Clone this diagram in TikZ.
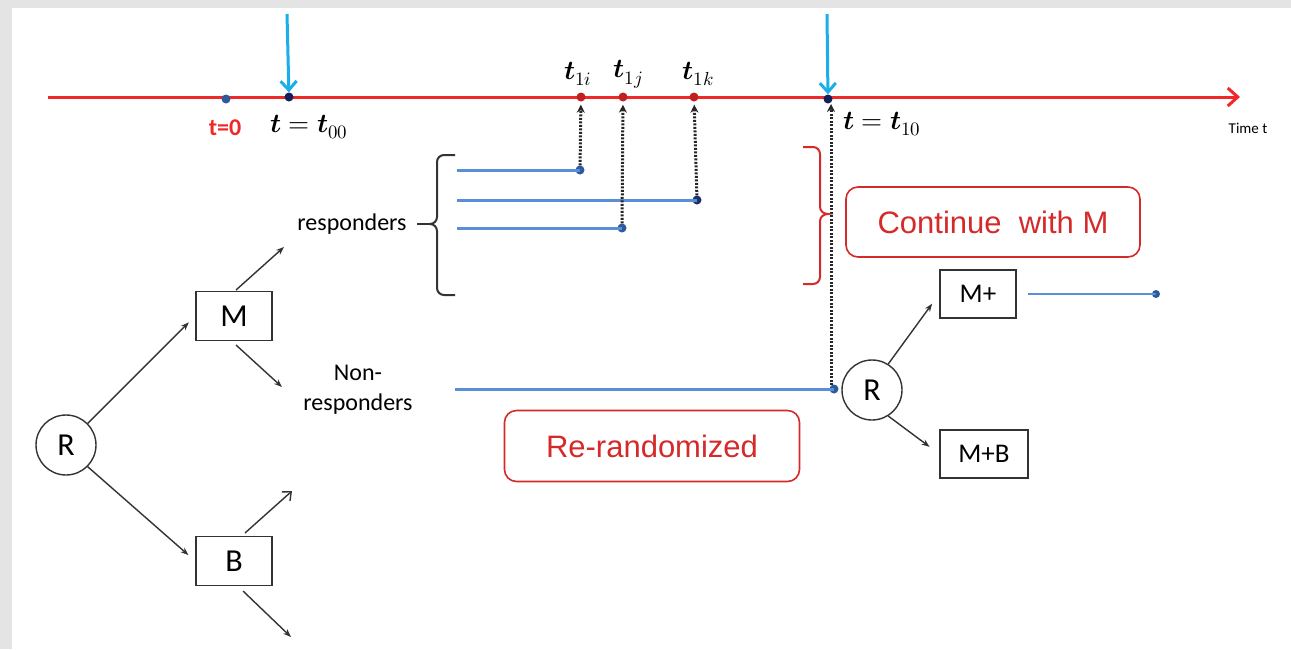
\documentclass[tikz,border=0pt]{standalone}
\usepackage{fontspec}
\setmainfont{Carlito}
\newfontfamily\arialf{Liberation Sans}
\usepackage{unicode-math}
\usetikzlibrary{arrows.meta}
\definecolor{axisred}{HTML}{F02828}
\definecolor{skyb}{HTML}{1BAEEA}
\definecolor{lineblue}{HTML}{5A8ED6}
\definecolor{dotblue}{HTML}{2E5A9C}
\definecolor{navy}{HTML}{14205A}
\definecolor{boxred}{HTML}{D42A2A}
\definecolor{bgray}{HTML}{E4E4E4}
\definecolor{ink}{HTML}{333333}
\tikzset{
  dotnode/.style={circle,fill=#1,inner sep=0pt,minimum size=9pt},
  tbox/.style={draw=ink,line width=1.6pt,minimum width=76pt,minimum height=49pt,font=\fontsize{32}{34}\selectfont,inner sep=0pt},
  sbox/.style={draw=ink,line width=1.6pt,minimum height=48pt,font=\fontsize{27}{29}\selectfont,inner sep=0pt},
  rnode/.style={circle,draw=ink,line width=1.4pt,minimum size=60pt,inner sep=0pt,font=\fontsize{32}{34}\selectfont},
  redbox/.style={draw=boxred,line width=1.6pt,rounded corners=12pt,text=boxred,font=\arialf\fontsize{31}{33}\selectfont,inner sep=0pt},
  lbl/.style={font=\fontsize{24}{30}\selectfont},
  mlbl/.style={font=\fontsize{27}{29}\selectfont},
  garrow/.style={draw=ink,line width=1.4pt,-{Stealth[length=8pt,width=6pt]}},
  dotarrow/.style={draw=black!85,line width=3pt,dash pattern=on 2pt off 1.5pt,-{Stealth[length=8pt,width=8pt]}},
  bline/.style={draw=lineblue,line width=3pt},
  cyanarrow/.style={draw=skyb,line width=3pt,-{Straight Barb[length=9pt,width=16pt,line width=3pt]}},
}
\begin{document}
\begin{tikzpicture}[x=1pt,y=-1pt]
\useasboundingbox (0,0) rectangle (1291,649);
\fill[bgray] (0,0) rectangle (1291,649);
\fill[white] (12,8) rectangle (1291,649);

% time axis
\coordinate (axs) at (48,97);
\coordinate (axe) at (1240,97);
\draw[axisred,line width=3pt,-{Straight Barb[length=10pt,width=18pt,line width=3pt]}] (axs) -- (axe);
\node[font=\fontsize{15}{17}\selectfont] (timet) at (1248,128) {Time t};

% axis dots
\node[dotnode=dotblue] (a0) at (226,99) {};
\node[dotnode=navy] (a00) at (289,97) {};
\node[dotnode=axisred!80!black] (a1i) at (581,97) {};
\node[dotnode=axisred!80!black] (a1j) at (623,97) {};
\node[dotnode=axisred!80!black] (a1k) at (694,97) {};
\node[dotnode=navy] (a10) at (828,99) {};

% cyan arrows
\coordinate (c1) at (287,14);
\coordinate (c2) at (827,14);
\draw[cyanarrow] (c1) -- (a00);
\draw[cyanarrow] (c2) -- (a10);

% axis labels
\node[text=axisred,font=\bfseries\fontsize{24}{26}\selectfont] (l0) at (225,128) {t=0};
\node[mlbl] (l00) at (309,127) {$\symbfit{t} = \symbfit{t}_{00}$};
\node[mlbl] (l1i) at (578,74) {$\symbfit{t}_{1i}$};
\node[mlbl] (l1j) at (628,74) {$\symbfit{t}_{1j}$};
\node[mlbl] (l1k) at (698,74) {$\symbfit{t}_{1k}$};
\node[mlbl] (l10) at (882,124) {$\symbfit{t} = \symbfit{t}_{10}$};

% responder lines
\coordinate (r1s) at (457,170);
\coordinate (r2s) at (457,200);
\coordinate (r3s) at (457,228);
\node[dotnode=dotblue] (d1i) at (580,170) {};
\node[dotnode=navy!70!dotblue] (d1k) at (697,200) {};
\node[dotnode=dotblue] (d1j) at (622,228) {};
\draw[bline] (r1s) -- (d1i.center);
\draw[bline] (r2s) -- (d1k.center);
\draw[bline] (r3s) -- (d1j.center);

% non-responder line
\coordinate (nrs) at (455,389);
\node[dotnode=dotblue] (dnr) at (834,389) {};
\draw[bline] (nrs) -- (dnr.center);

% dotted arrows
\draw[dotarrow,shorten >=3pt] (d1i) -- (a1i);
\draw[dotarrow,shorten >=3pt] (d1j) -- (a1j);
\draw[dotarrow,shorten >=3pt] (d1k) -- (a1k);
\coordinate (dnrt) at (831,385);
\coordinate (a10b) at (831,103);
\draw[dotarrow,shorten >=1pt] (dnrt) -- (a10b);

% braces
\draw[ink,line width=2pt] (455,155) -- (444,155) to[out=180,in=90] (437,162) -- (437,217) to[out=-90,in=0] (430,224) to[out=0,in=90] (437,231) -- (437,288) to[out=-90,in=180] (444,295) -- (455,295);
\node[lbl] (resp) at (352,224) {responders};
\coordinate (rq) at (417,224);
\coordinate (rbt) at (430,224);
\draw[ink,line width=1.8pt] (rq) -- (rbt);

\draw[boxred,line width=2pt] (803,147) -- (813,147) to[out=0,in=90] (820,154) -- (820,207) to[out=-90,in=180] (828,214) to[out=180,in=90] (820,221) -- (820,277) to[out=-90,in=0] (813,284) -- (803,284);

% red boxes
\node[redbox,minimum width=294pt,minimum height=70pt] (cont) at (993,222) {Continue\ \ with M};
\node[redbox,minimum width=295pt,minimum height=71pt] (rer) at (652,446) {Re-randomized};

% tree
\node[rnode] (R) at (66,445) {R};
\node[tbox] (M) at (234,316) {M};
\node[tbox] (B) at (234,561) {B};
\node[lbl,align=center] (nonr) at (358,390) {Non-\\responders};
\coordinate (respa) at (284,247);
\coordinate (nra) at (282,387);
\coordinate (bu) at (292,491);
\coordinate (bd) at (291,637);

\draw[garrow,shorten >=9pt] (R.45) -- (M.west);
\draw[garrow,shorten >=9pt] (R.-45) -- (B.west);
\coordinate (mn) at (236,290);
\coordinate (ms) at (236,345);
\draw[garrow] (mn) -- (respa);
\draw[garrow] (ms) -- (nra);
\coordinate (bn) at (245,533);
\coordinate (bs) at (243,591);
\draw[draw=ink,line width=1.4pt,-{Straight Barb[length=7pt,width=12pt,line width=1.4pt]}] (bn) -- (bu);
\draw[garrow] (bs) -- (bd);

% second randomization
\node[rnode] (R2) at (872,390) {R};
\node[sbox,minimum width=76pt] (Mp) at (978,294) {M+};
\node[sbox,minimum width=88pt] (MpB) at (984,454) {M+B};
\draw[garrow,shorten >=12pt] (R2.58) -- (Mp.west);
\draw[garrow,shorten >=12pt] (R2.-58) -- (MpB.west);
\coordinate (mpl) at (1028,294);
\node[dotnode=dotblue,minimum size=8pt] (mpd) at (1156,294) {};
\draw[lineblue,line width=2pt] (mpl) -- (mpd.center);
\end{tikzpicture}
\end{document}
